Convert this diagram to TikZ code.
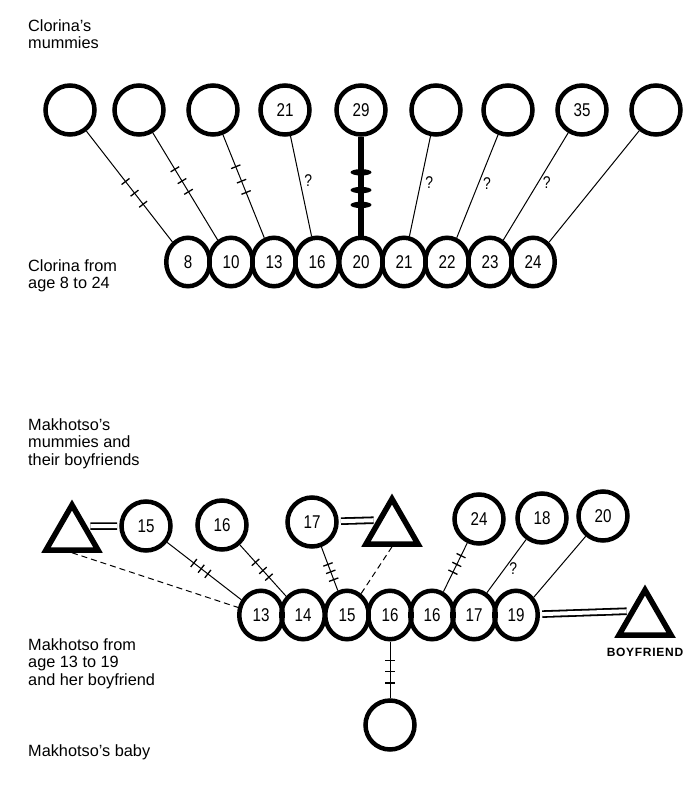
\documentclass[tikz,border=0pt]{standalone}
\usepackage{fontspec}
\setmainfont{Liberation Sans}
\newfontfamily\handfont{Liberation Sans}[FakeStretch=0.82]
\usetikzlibrary{positioning, shapes.geometric, decorations.markings}

\newcommand{\numfont}{\handfont\fontsize{18.5}{18.5}\selectfont}
\newcommand{\notefont}{\fontsize{16.3}{17.5}\selectfont}

\begin{document}
\begin{tikzpicture}[x=1pt, y=-1pt,
    mummy/.style={circle, draw, line width=4.5pt, minimum size=49pt, inner sep=0pt, font=\numfont},
    year/.style={ellipse, draw, line width=4.5pt, minimum width=43.5pt, minimum height=48.5pt, inner sep=0pt, font=\numfont},
    man/.style={regular polygon, regular polygon sides=3, draw, line width=5.5pt, minimum size=60pt, inner sep=0pt},
    note/.style={anchor=north west, align=left, inner sep=0pt, font=\notefont},
    link/.style={line width=1pt},
    affair/.style={link, dash pattern=on 6pt off 4pt},
    couple/.style={double, double distance=4pt, line width=1.8pt, shorten <=3pt, shorten >=2.2pt},
    ticks/.style n args={3}{link, postaction={decorate, decoration={markings,
        mark=at position #1 with {\draw[line width=1.3pt] (0,-5pt) -- (0,5pt);},
        mark=at position #2 with {\draw[line width=1.3pt] (0,-5pt) -- (0,5pt);},
        mark=at position #3 with {\draw[line width=1.3pt] (0,-5pt) -- (0,5pt);}}}},
    bars/.style={line width=6pt, postaction={decorate, decoration={markings,
        mark=at position 0.36 with {\fill (0,0) ellipse (3.2pt and 10.5pt);},
        mark=at position 0.54 with {\fill (0,0) ellipse (3.2pt and 10.5pt);},
        mark=at position 0.69 with {\fill (0,0) ellipse (3.2pt and 10.5pt);}}}},
    qmark/.style={font=\handfont\fontsize{17}{17}\selectfont, inner sep=1pt, anchor=west, xshift=3pt}]
    \useasboundingbox (0,0) rectangle (683,797);

    % Clorina and her mummies
    \node[note] (clotitle) at (28,19.3) {Clorina’s\\mummies};
    \node[mummy] (cm1) at (70,110) {};
    \node[mummy] (cm2) at (139,110) {};
    \node[mummy] (cm3) at (213,110) {};
    \node[mummy] (cm4) at (285,110) {21};
    \node[mummy] (cm5) at (361,110) {29};
    \node[mummy] (cm6) at (436,110) {};
    \node[mummy] (cm7) at (508,110) {};
    \node[mummy] (cm8) at (582,110) {35};
    \node[mummy] (cm9) at (656,110) {};

    \node[note] (cloage) at (28,259.3) {Clorina from\\age 8 to 24};
    \node[year] (c8) at (188,262) {8};
    \node[year] (c10) at (231,262) {10};
    \node[year] (c13) at (274,262) {13};
    \node[year] (c16) at (317,262) {16};
    \node[year] (c20) at (361,262) {20};
    \node[year] (c21) at (404,262) {21};
    \node[year] (c22) at (447,262) {22};
    \node[year] (c23) at (490,262) {23};
    \node[year] (c24) at (533,262) {24};

    \draw[ticks={0.455}{0.56}{0.66}] (cm1) -- (c8);
    \draw[ticks={0.34}{0.45}{0.55}] (cm2) -- (c10);
    \draw[ticks={0.31}{0.45}{0.56}] (cm3) -- (c13);
    \draw[link] (cm4) -- node[qmark, pos=0.44] (q1) {?} (c16);
    \draw[bars] (cm5) -- (c20);
    \draw[link] (cm6) -- node[qmark, pos=0.46] (q2) {?} (c21);
    \draw[link] (cm7) -- node[qmark, pos=0.47] (q3) {?} (c22);
    \draw[link] (cm8) -- node[qmark, pos=0.46] (q4) {?} (c23);
    \draw[link] (cm9) -- (c24);

    % Makhotso, her mummies and the boyfriends
    \node[note] (mktitle) at (28,418.3) {Makhotso’s\\mummies and\\their boyfriends};
    \node[man] (bf1) at (72,535) {};
    \node[mummy] (mm15) at (146,526) {15};
    \node[mummy] (mm16) at (222,525) {16};
    \node[mummy] (mm17) at (312,522) {17};
    \node[man] (bf2) at (392,529) {};
    \node[mummy] (mm24) at (479,519) {24};
    \node[mummy] (mm18) at (542,518) {18};
    \node[mummy] (mm20) at (603,516) {20};

    \node[note] (mkage) at (28,638.3) {Makhotso from\\age 13 to 19\\and her boyfriend};
    \node[year] (m13) at (261,615) {13};
    \node[year] (m14) at (303,615) {14};
    \node[year] (m15) at (347,615) {15};
    \node[year] (m16) at (390,615) {16};
    \node[year] (m16b) at (432,615) {16};
    \node[year] (m17) at (474,615) {17};
    \node[year] (m19) at (516,615) {19};
    \node[man] (bf3) at (645,620) {};
    \node[below=10pt of bf3, inner sep=0pt, font=\bfseries\fontsize{12}{12}\selectfont\addfontfeature{LetterSpace=6}] (bflabel) {BOYFRIEND};

    \node[note] (babytitle) at (28,744) {Makhotso’s baby};
    \node[mummy] (baby) at (390,725) {};

    \draw[affair] (bf1.south) -- (m13);
    \draw[couple] (bf1.side 3) -- (mm15);
    \draw[ticks={0.36}{0.46}{0.55}] (mm15) -- (m13);
    \draw[ticks={0.34}{0.5}{0.63}] (mm16) -- (m14);
    \draw[ticks={0.4}{0.57}{0.75}] (mm17) -- (m15);
    \draw[couple] (bf2.side 1) -- (mm17);
    \draw[affair] (bf2.south) -- (m15);
    \draw[ticks={0.26}{0.44}{0.6}] (mm24) -- (m16b);
    \draw[link] (mm18) -- node[qmark, pos=0.54] (q5) {?} (m17.60);
    \draw[link] (mm20) -- (m19.45);
    \draw[couple] (bf3.side 1) -- (m19);
    \draw[ticks={0.33}{0.53}{0.73}] (m16) -- (baby);
\end{tikzpicture}
\end{document}
